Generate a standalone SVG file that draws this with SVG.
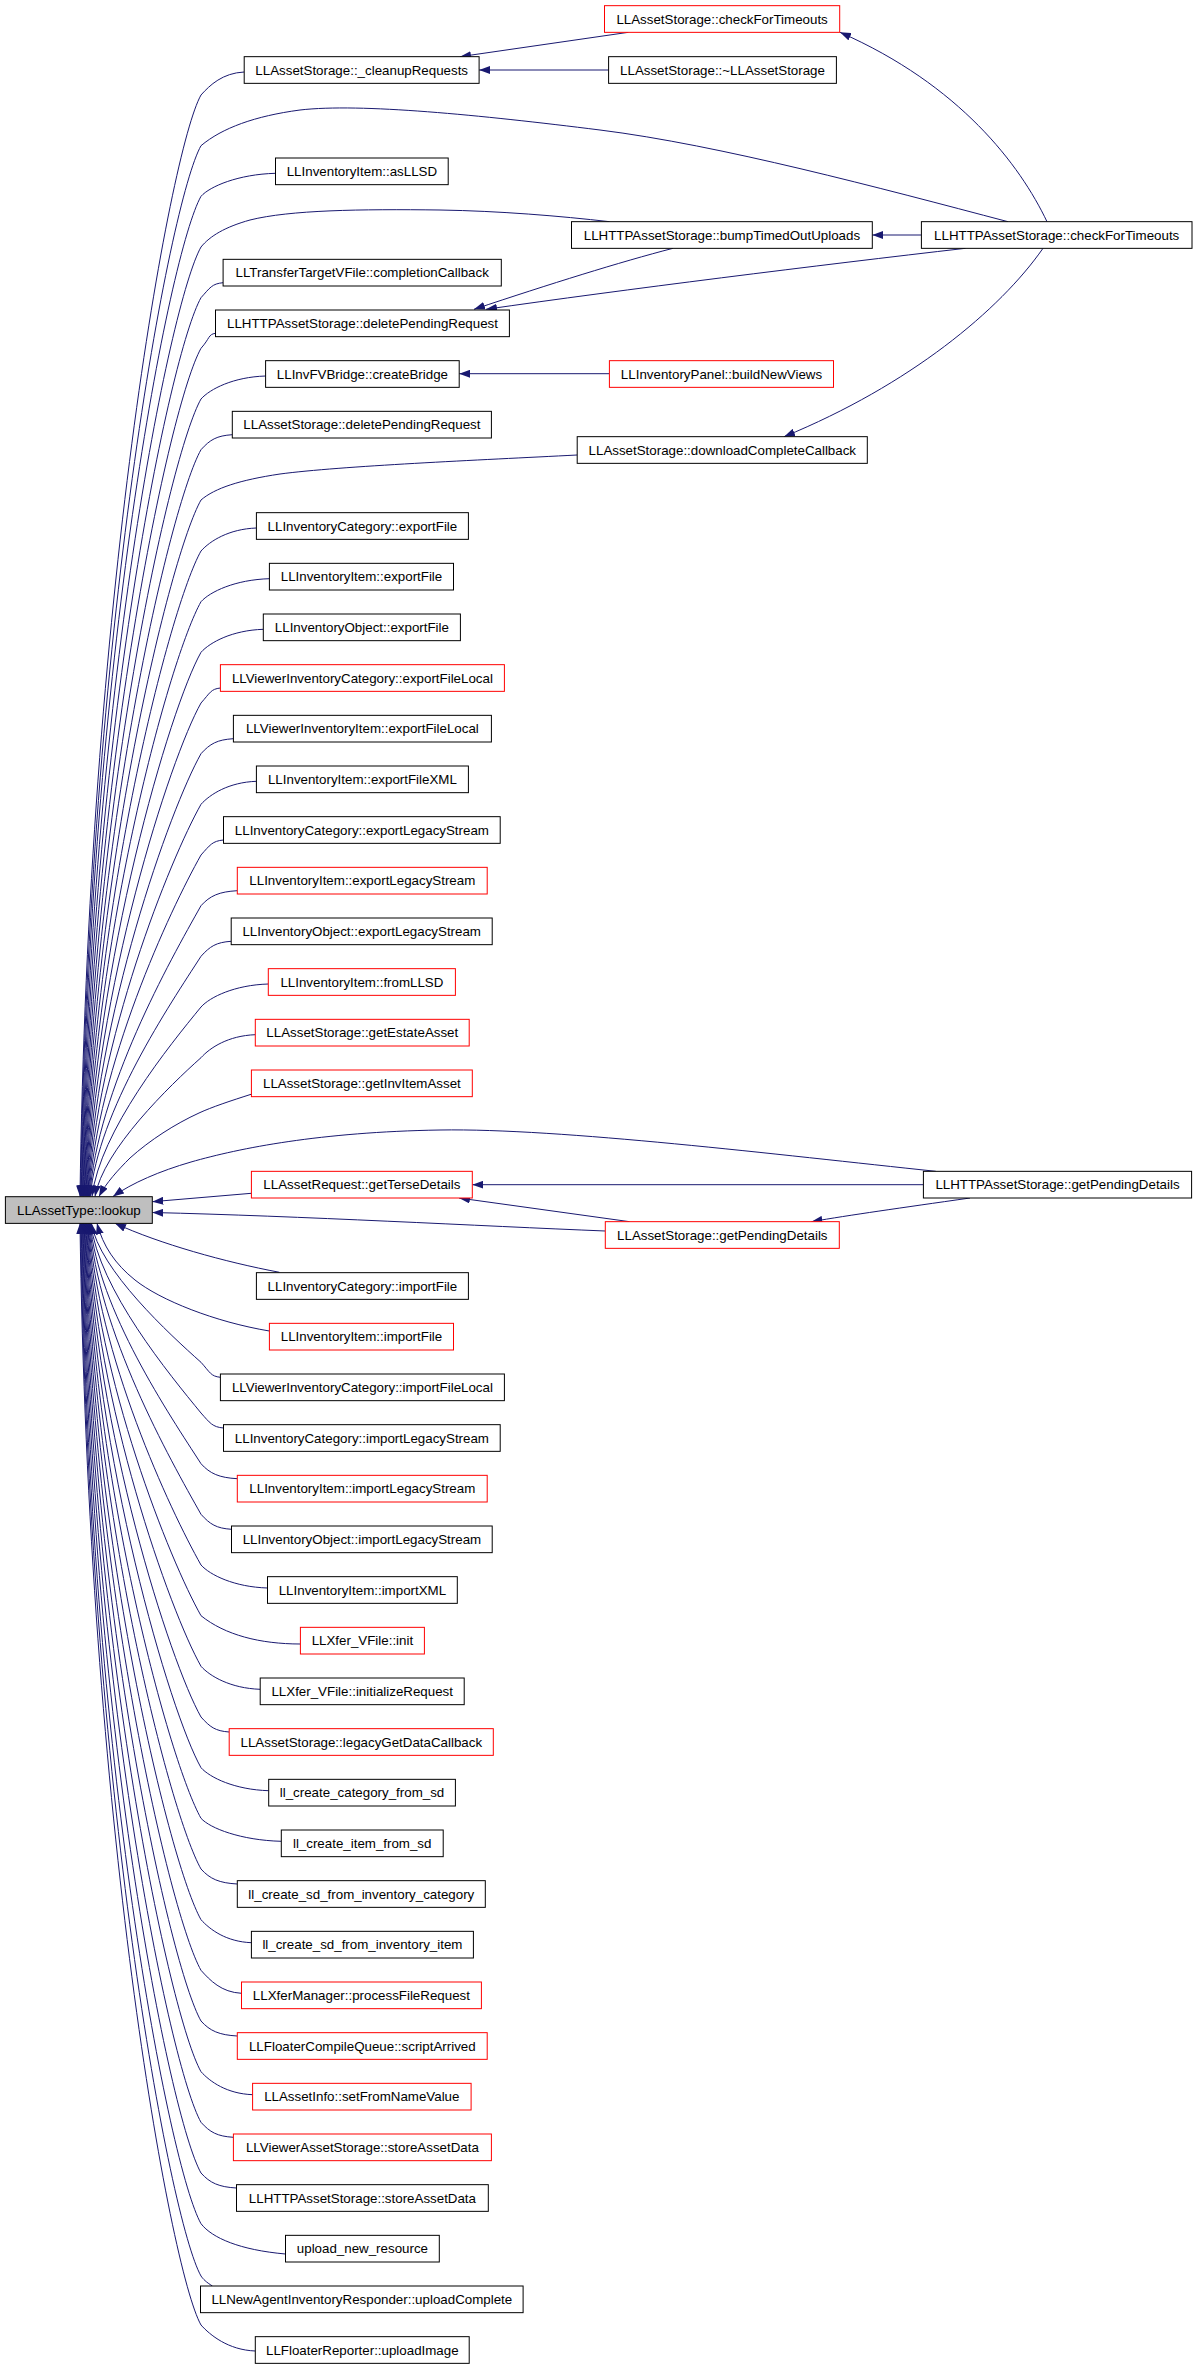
<svg xmlns="http://www.w3.org/2000/svg" width="1197" height="2368" viewBox="0 0 1197 2368">
<style>
.n rect{fill:#ffffff;stroke:#000000;stroke-width:1}
.r rect{fill:#ffffff;stroke:#ff0000;stroke-width:1}
.g rect{fill:#bfbfbf;stroke:#000000;stroke-width:1}
text{font-family:"Liberation Sans",Arial,Helvetica,sans-serif;font-size:13.33px;fill:#000000;text-anchor:middle}
#edges path{fill:none;stroke:#191970;stroke-width:1;marker-end:url(#ah)}
</style>
<defs>
<marker id="ah" viewBox="0 0 11 8" refX="11" refY="4" markerWidth="11" markerHeight="8" markerUnits="userSpaceOnUse" orient="auto">
<path d="M0,0 L11,4 L0,8 z" fill="#191970"/>
</marker>
</defs>
<rect x="0" y="0" width="1197" height="2368" fill="#ffffff"/>
<g id="edges">
<path d="M244.2,72 C222.6,73 210,85 201,95 C170,150 88,601.5 80,1196.5"/>
<path d="M1008,221.7 C880,188 720,145 600,130 C480,115 360,103 300,110 C255,116 222,128 201,145.7 C170,200.7 88.6,628.5 80.6,1196.5"/>
<path d="M275.5,173.3 C238.3,174.3 210,186.3 201,196.3 C170,251.3 89.2,656.2 81.2,1196.5"/>
<path d="M609.6,221.7 C560,216 500,211 440,210 C360,209 290,210 250,220 C225,227 210,236 201,247 C170,302 89.8,695 81.8,1196.5"/>
<path d="M223.1,282.7 C212,283.7 210,287.7 201,297.7 C170,352.7 90.4,732.8 82.4,1196.5"/>
<path d="M215.5,333.3 C208.2,334.3 210,338.3 201,348.3 C170,403.3 91,769.3 83,1196.5"/>
<path d="M265.6,376 C233.3,377 210,389 201,399 C170,454 91.6,804.6 83.6,1196.5"/>
<path d="M232.3,434.7 C216.7,435.7 210,439.7 201,449.7 C170,504.7 92.2,838.5 84.2,1196.5"/>
<path d="M577.2,455 C480,460 340,466 280,474 C240,480 215,488 201,500 C170,555 92.8,871 84.8,1196.5"/>
<path d="M256.4,528 C228.7,529 210,541 201,551 C170,606 93.4,902.7 85.4,1196.5"/>
<path d="M269.4,578.7 C235.2,579.7 210,591.7 201,601.7 C170,656.7 94,933 86,1196.5"/>
<path d="M263.3,629.3 C232.2,630.3 210,642.3 201,652.3 C170,707.3 94.6,962 86.6,1196.5"/>
<path d="M220.4,688 C210.7,689 210,693 201,703 C170,758 95.2,989.8 87.2,1196.5"/>
<path d="M233.4,738.7 C217.2,739.7 210,743.7 201,753.7 C170,808.7 95.8,1016.4 87.8,1196.5"/>
<path d="M256.4,781.3 C228.7,782.3 210,794.3 201,804.3 C170,859.3 96.4,1041.7 88.4,1196.5"/>
<path d="M223.5,840 C212.3,841 210,845 201,855 C170,910 97,1065.8 89,1196.5"/>
<path d="M237.3,890.7 C219.2,891.7 210,895.7 201,905.7 C170,960.7 97.6,1088.7 89.6,1196.5"/>
<path d="M231.2,941.3 C216.1,942.3 210,946.3 201,956.3 C170,1004.3 98.2,1110.3 90.2,1196.5"/>
<path d="M268.3,984 C234.7,985 210,997 201,1007 C170,1044.8 100,1130.8 92,1196.5"/>
<path d="M255.3,1034.7 C228.2,1035.7 210,1047.7 201,1057.7 C170,1085.3 103,1150 95,1196.5"/>
<path d="M252,1094 C230,1101 212,1107 199,1113 C175,1124 150,1140 130,1158 C118,1170 106,1183 99,1196.5"/>
<path d="M935.8,1171.3 C780,1155 560,1128 440,1130 C320,1132 240,1148 191,1162 C160,1171 132,1183 113,1196.5"/>
<path d="M251.4,1193.3 L152.3,1201.7"/>
<path d="M605.3,1231 C480,1226 300,1216 152.3,1212.5"/>
<path d="M279.4,1272.3 C225,1262 160,1244 115,1223.3"/>
<path d="M269.4,1331 C215,1322 160,1300 135,1280 C115,1264 103,1246 97,1223.3"/>
<path d="M220.4,1377.3 C210.7,1376.3 210,1372.3 201,1362.3 C170,1334.7 99.4,1270.1 91.4,1223.3"/>
<path d="M223.5,1428 C212.3,1427 210,1423 201,1413 C170,1375.2 98.8,1289.2 90.8,1223.3"/>
<path d="M237.3,1478.7 C219.2,1477.7 210,1473.7 201,1463.7 C170,1415.7 98.2,1309.7 90.2,1223.3"/>
<path d="M231.5,1529.3 C216.3,1528.3 210,1524.3 201,1514.3 C170,1459.3 97.6,1331.3 89.6,1223.3"/>
<path d="M267.5,1588 C234.3,1587 210,1575 201,1565 C170,1510 97,1354.2 89,1223.3"/>
<path d="M300.4,1644 C260,1644 225,1635 201,1615.7 C170,1560.7 96.4,1378.3 88.4,1223.3"/>
<path d="M260.2,1689.3 C230.6,1688.3 210,1676.3 201,1666.3 C170,1611.3 95.8,1403.6 87.8,1223.3"/>
<path d="M229.2,1732 C215.1,1731 210,1727 201,1717 C170,1662 95.2,1430.2 87.2,1223.3"/>
<path d="M268.7,1790.7 C234.9,1789.7 210,1777.7 201,1767.7 C170,1712.7 94.6,1458 86.6,1223.3"/>
<path d="M281.3,1841.3 C241.2,1840.3 210,1828.3 201,1818.3 C170,1763.3 94,1487 86,1223.3"/>
<path d="M237.3,1884 C219.2,1883 210,1879 201,1869 C170,1814 93.4,1517.3 85.4,1223.3"/>
<path d="M251.4,1942.7 C226.2,1941.7 210,1929.7 201,1919.7 C170,1864.7 92.8,1548.9 84.8,1223.3"/>
<path d="M241.5,1993.3 C221.3,1992.3 210,1980.3 201,1970.3 C170,1915.3 92.2,1581.5 84.2,1223.3"/>
<path d="M237.3,2036 C219.2,2035 210,2031 201,2021 C170,1966 91.6,1615.6 83.6,1223.3"/>
<path d="M252.6,2094.7 C226.8,2093.7 210,2081.7 201,2071.7 C170,2016.7 91,1650.7 83,1223.3"/>
<path d="M233.4,2137.3 C217.2,2136.3 210,2132.3 201,2122.3 C170,2067.3 90.4,1687.2 82.4,1223.3"/>
<path d="M236.5,2188 C218.8,2187 210,2183 201,2173 C170,2118 89.8,1724.9 81.8,1223.3"/>
<path d="M285.5,2254 C240,2250 212,2238 201,2223.7 C170,2168.7 89.2,1763.8 81.2,1223.3"/>
<path d="M212.4,2286 C206,2282 203,2279 201,2276 C170,2221 88.6,1792 80.6,1223.3"/>
<path d="M255.3,2351 C228.2,2350 210,2335 201,2325 C170,2270 88,1818.5 80,1223.3"/>
<path d="M628.4,32.3 L460,56.7"/>
<path d="M608.6,70 L479.1,70"/>
<path d="M1047,221.7 C1020,165 960,85 840,32.3"/>
<path d="M921.4,235 L872.3,235"/>
<path d="M673,248.3 C620,262 550,284 474,309.3"/>
<path d="M965.5,248.3 C820,265 620,290 486,309.3"/>
<path d="M609.4,373.7 L459.2,373.7"/>
<path d="M1043,248.3 C1000,310 910,385 784,436.7"/>
<path d="M923.4,1184.7 L472.3,1184.7"/>
<path d="M629.6,1221.7 L459,1198"/>
<path d="M970,1198 C900,1208 850,1215 811.4,1221.7"/>
</g>
<g id="lookup" class="g"><rect x="5.4" y="1196.7" width="146.9" height="26.67"/><text x="78.9" y="1214.7">LLAssetType::lookup</text></g>
<g id="n0" class="n"><rect x="244.2" y="56.67" width="234.9" height="26.67"/><text x="361.7" y="74.7">LLAssetStorage::_cleanupRequests</text></g>
<g id="n2" class="n"><rect x="275.5" y="158" width="172.7" height="26.67"/><text x="361.9" y="176">LLInventoryItem::asLLSD</text></g>
<g id="n4" class="n"><rect x="223.1" y="259.33" width="278.2" height="26.67"/><text x="362.2" y="277.4">LLTransferTargetVFile::completionCallback</text></g>
<g id="n5" class="n"><rect x="215.5" y="310" width="293.9" height="26.67"/><text x="362.5" y="328">LLHTTPAssetStorage::deletePendingRequest</text></g>
<g id="n6" class="n"><rect x="265.6" y="360.67" width="193.6" height="26.67"/><text x="362.4" y="378.7">LLInvFVBridge::createBridge</text></g>
<g id="n7" class="n"><rect x="232.3" y="411.33" width="259.1" height="26.67"/><text x="361.9" y="429.4">LLAssetStorage::deletePendingRequest</text></g>
<g id="n9" class="n"><rect x="256.4" y="512.67" width="212" height="26.67"/><text x="362.4" y="530.7">LLInventoryCategory::exportFile</text></g>
<g id="n10" class="n"><rect x="269.4" y="563.33" width="184.1" height="26.67"/><text x="361.5" y="581.4">LLInventoryItem::exportFile</text></g>
<g id="n11" class="n"><rect x="263.3" y="614" width="197.1" height="26.67"/><text x="361.9" y="632">LLInventoryObject::exportFile</text></g>
<g id="n12" class="r"><rect x="220.4" y="664.67" width="284" height="26.67"/><text x="362.4" y="682.7">LLViewerInventoryCategory::exportFileLocal</text></g>
<g id="n13" class="n"><rect x="233.4" y="715.33" width="258" height="26.67"/><text x="362.4" y="733.4">LLViewerInventoryItem::exportFileLocal</text></g>
<g id="n14" class="n"><rect x="256.4" y="766" width="212" height="26.67"/><text x="362.4" y="784">LLInventoryItem::exportFileXML</text></g>
<g id="n15" class="n"><rect x="223.5" y="816.67" width="276.7" height="26.67"/><text x="361.9" y="834.7">LLInventoryCategory::exportLegacyStream</text></g>
<g id="n16" class="r"><rect x="237.3" y="867.33" width="249.9" height="26.67"/><text x="362.3" y="885.4">LLInventoryItem::exportLegacyStream</text></g>
<g id="n17" class="n"><rect x="231.2" y="918" width="261" height="26.67"/><text x="361.7" y="936">LLInventoryObject::exportLegacyStream</text></g>
<g id="n18" class="r"><rect x="268.3" y="968.67" width="187.1" height="26.67"/><text x="361.9" y="986.7">LLInventoryItem::fromLLSD</text></g>
<g id="n19" class="r"><rect x="255.3" y="1019.33" width="213.9" height="26.67"/><text x="362.3" y="1037.4">LLAssetStorage::getEstateAsset</text></g>
<g id="n20" class="r"><rect x="251.4" y="1070" width="220.9" height="26.67"/><text x="361.9" y="1088">LLAssetStorage::getInvItemAsset</text></g>
<g id="n22" class="r"><rect x="251.4" y="1171.33" width="220.9" height="26.67"/><text x="361.9" y="1189.4">LLAssetRequest::getTerseDetails</text></g>
<g id="n24" class="n"><rect x="256.4" y="1272.67" width="212" height="26.67"/><text x="362.4" y="1290.7">LLInventoryCategory::importFile</text></g>
<g id="n25" class="r"><rect x="269.4" y="1323.33" width="184.1" height="26.67"/><text x="361.5" y="1341.4">LLInventoryItem::importFile</text></g>
<g id="n26" class="n"><rect x="220.4" y="1374" width="284" height="26.67"/><text x="362.4" y="1392">LLViewerInventoryCategory::importFileLocal</text></g>
<g id="n27" class="n"><rect x="223.5" y="1424.67" width="276.7" height="26.67"/><text x="361.9" y="1442.7">LLInventoryCategory::importLegacyStream</text></g>
<g id="n28" class="r"><rect x="237.3" y="1475.33" width="249.9" height="26.67"/><text x="362.3" y="1493.4">LLInventoryItem::importLegacyStream</text></g>
<g id="n29" class="n"><rect x="231.5" y="1526" width="260.7" height="26.67"/><text x="361.9" y="1544">LLInventoryObject::importLegacyStream</text></g>
<g id="n30" class="n"><rect x="267.5" y="1576.67" width="189.8" height="26.67"/><text x="362.4" y="1594.7">LLInventoryItem::importXML</text></g>
<g id="n31" class="r"><rect x="300.4" y="1627.33" width="124" height="26.67"/><text x="362.4" y="1645.4">LLXfer_VFile::init</text></g>
<g id="n32" class="n"><rect x="260.2" y="1678" width="204" height="26.67"/><text x="362.2" y="1696">LLXfer_VFile::initializeRequest</text></g>
<g id="n33" class="r"><rect x="229.2" y="1728.67" width="264.1" height="26.67"/><text x="361.3" y="1746.7">LLAssetStorage::legacyGetDataCallback</text></g>
<g id="n34" class="n"><rect x="268.7" y="1779.33" width="186.7" height="26.67"/><text x="362" y="1797.4">ll_create_category_from_sd</text></g>
<g id="n35" class="n"><rect x="281.3" y="1830" width="161.9" height="26.67"/><text x="362.2" y="1848">ll_create_item_from_sd</text></g>
<g id="n36" class="n"><rect x="237.3" y="1880.67" width="248" height="26.67"/><text x="361.3" y="1898.7">ll_create_sd_from_inventory_category</text></g>
<g id="n37" class="n"><rect x="251.4" y="1931.33" width="222" height="26.67"/><text x="362.4" y="1949.4">ll_create_sd_from_inventory_item</text></g>
<g id="n38" class="r"><rect x="241.5" y="1982" width="239.9" height="26.67"/><text x="361.4" y="2000">LLXferManager::processFileRequest</text></g>
<g id="n39" class="r"><rect x="237.3" y="2032.67" width="249.9" height="26.67"/><text x="362.3" y="2050.7">LLFloaterCompileQueue::scriptArrived</text></g>
<g id="n40" class="r"><rect x="252.6" y="2083.33" width="218.5" height="26.67"/><text x="361.8" y="2101.4">LLAssetInfo::setFromNameValue</text></g>
<g id="n41" class="r"><rect x="233.4" y="2134" width="258" height="26.67"/><text x="362.4" y="2152">LLViewerAssetStorage::storeAssetData</text></g>
<g id="n42" class="n"><rect x="236.5" y="2184.67" width="251.8" height="26.67"/><text x="362.4" y="2202.7">LLHTTPAssetStorage::storeAssetData</text></g>
<g id="n43" class="n"><rect x="285.5" y="2235.33" width="153.8" height="26.67"/><text x="362.4" y="2253.4">upload_new_resource</text></g>
<g id="n44" class="n"><rect x="200.5" y="2286" width="322.6" height="26.67"/><text x="361.8" y="2304">LLNewAgentInventoryResponder::uploadComplete</text></g>
<g id="n45" class="n"><rect x="255.3" y="2336.67" width="213.9" height="26.67"/><text x="362.3" y="2354.7">LLFloaterReporter::uploadImage</text></g>
<g id="c3a" class="r"><rect x="604.5" y="5.67" width="235.2" height="26.67"/><text x="722.1" y="23.7">LLAssetStorage::checkForTimeouts</text></g>
<g id="c3b" class="n"><rect x="608.6" y="56.67" width="227.8" height="26.67"/><text x="722.5" y="74.7">LLAssetStorage::~LLAssetStorage</text></g>
<g id="c3c" class="n"><rect x="571.5" y="221.67" width="300.8" height="26.67"/><text x="721.9" y="239.7">LLHTTPAssetStorage::bumpTimedOutUploads</text></g>
<g id="c3d" class="r"><rect x="609.4" y="360.67" width="224.1" height="26.67"/><text x="721.5" y="378.7">LLInventoryPanel::buildNewViews</text></g>
<g id="c3e" class="n"><rect x="577.2" y="436.67" width="290.1" height="26.67"/><text x="722.3" y="454.7">LLAssetStorage::downloadCompleteCallback</text></g>
<g id="c3f" class="r"><rect x="605.3" y="1221.67" width="234" height="26.67"/><text x="722.3" y="1239.7">LLAssetStorage::getPendingDetails</text></g>
<g id="c4a" class="n"><rect x="921.4" y="221.67" width="270.6" height="26.67"/><text x="1056.7" y="239.7">LLHTTPAssetStorage::checkForTimeouts</text></g>
<g id="c4b" class="n"><rect x="923.4" y="1171.33" width="268.2" height="26.67"/><text x="1057.5" y="1189.4">LLHTTPAssetStorage::getPendingDetails</text></g>
</svg>
